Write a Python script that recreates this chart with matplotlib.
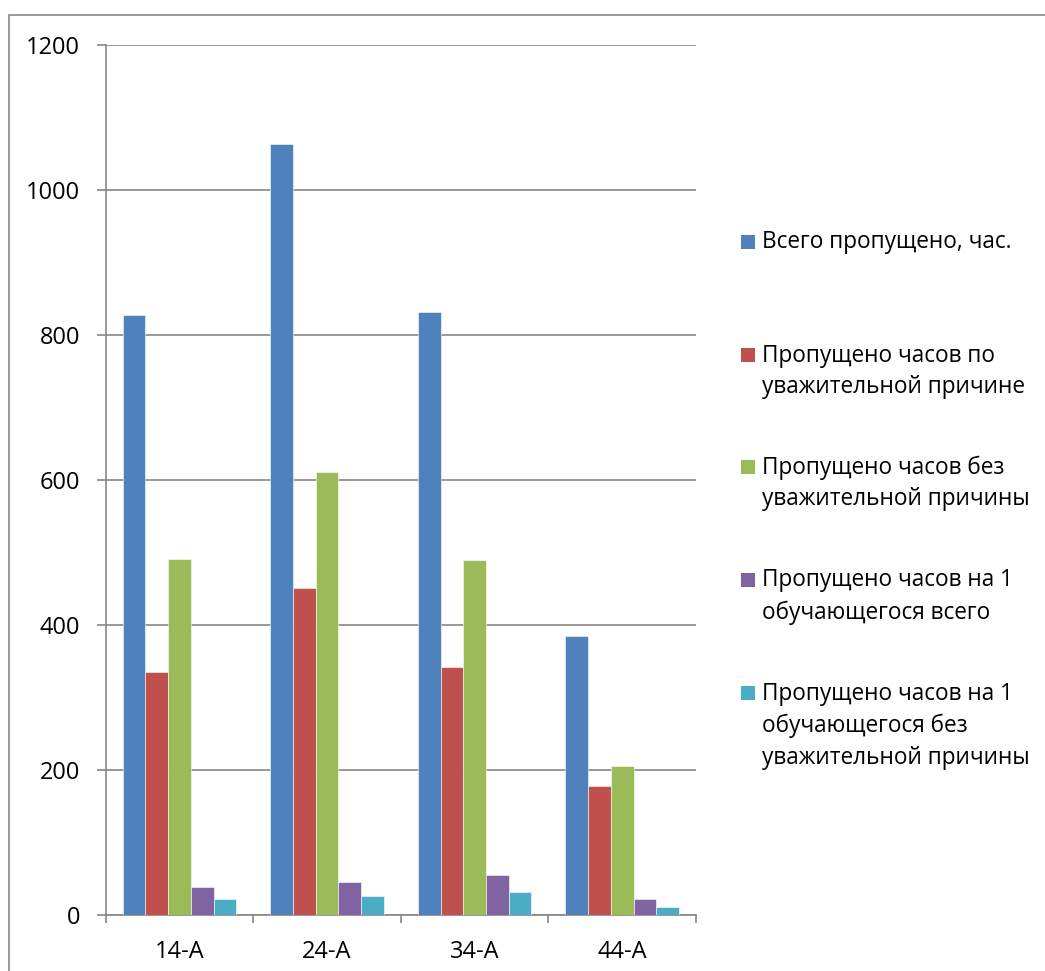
import matplotlib
matplotlib.use("Agg")
import matplotlib.pyplot as plt
from matplotlib.patches import Rectangle
import numpy as np

categories = ["14-А", "24-А", "34-А", "44-А"]
series_names = [
    "Всего пропущено, час.",
    "Пропущено часов по\nуважительной причине",
    "Пропущено часов без\nуважительной причины",
    "Пропущено часов на 1\nобучающегося всего",
    "Пропущено часов на 1\nобучающегося без\nуважительной причины",
]
total_missed = [827, 1063, 831, 384]
excused = [335, 451, 341, 178]
unexcused = [491, 611, 489, 205]
per_student_total = [38, 45, 55, 22]
per_student_unexcused = [22, 26, 31, 11]
colors = ["#4F81BD", "#C0504D", "#9BBB59", "#8064A2", "#4BACC6"]
y_ticks = [0, 200, 400, 600, 800, 1000, 1200]

series = [total_missed, excused, unexcused, per_student_total, per_student_unexcused]

plt.rcParams['font.family'] = ['Open Sans', 'DejaVu Sans']

W, H = 1045, 971
fig = plt.figure(figsize=(W / 100, H / 100), dpi=100)

def fx(px):
    return px / W

def fy(py):
    return 1 - py / H

ax = fig.add_axes([fx(105.7), fy(914.7), fx(696) - fx(105.7), fy(44.7) - fy(914.7)])

n = len(series)
bw = 1.0 / (n + 1.5)
x = np.arange(len(categories))
for i, (vals, c) in enumerate(zip(series, colors)):
    offs = (i - (n - 1) / 2) * bw
    ax.bar(x + 0.5 + offs, vals, width=bw, color=c, edgecolor="white", linewidth=0.4, zorder=3)

grid_c = "#868686"
ax.set_xlim(0, len(categories))
ax.set_ylim(0, 1200)
ax.set_yticks(y_ticks)
ax.set_yticklabels([str(v) for v in y_ticks])
ax.yaxis.grid(True, color=grid_c, linewidth=1.2, zorder=1)
ax.set_axisbelow(True)

ax.set_xticks(np.arange(len(categories) + 1))
ax.set_xticklabels([""] * (len(categories) + 1))
ax.set_xticks(x + 0.5, minor=True)
ax.set_xticklabels(categories, minor=True)
ax.tick_params(axis="x", which="minor", length=0, pad=18, labelsize=17)
ax.tick_params(axis="x", which="major", length=6, width=1.2, color=grid_c, direction="out")
ax.tick_params(axis="y", which="major", length=6.5, width=1.2, color=grid_c, direction="out", pad=12, labelsize=17)

for s in ["top", "right"]:
    ax.spines[s].set_visible(False)
for s in ["left", "bottom"]:
    ax.spines[s].set_color(grid_c)
    ax.spines[s].set_linewidth(1.2)

# legend drawn manually
leg_y = [242, 371.5, 483.5, 596.5, 726]
for name, c, yc in zip(series_names, colors, leg_y):
    nlines = name.count("\n") + 1
    top_line_y = yc - (nlines - 1) * 33 / 2
    fig.patches.append(Rectangle((fx(741), fy(top_line_y + 7)), fx(14), fy(0) - fy(14),
                                 transform=fig.transFigure, facecolor=c, edgecolor="none"))
    fig.text(fx(762), fy(yc), name, ha="left", va="center", fontsize=16.3,
             linespacing=1.42, color="#000000")

# outer border
fig.patches.append(Rectangle((fx(9), fy(1200)), 2, fy(15.5) - fy(1200),
                             transform=fig.transFigure, facecolor="none",
                             edgecolor="#888888", linewidth=1.2))

fig.savefig("out.png", dpi=100)
